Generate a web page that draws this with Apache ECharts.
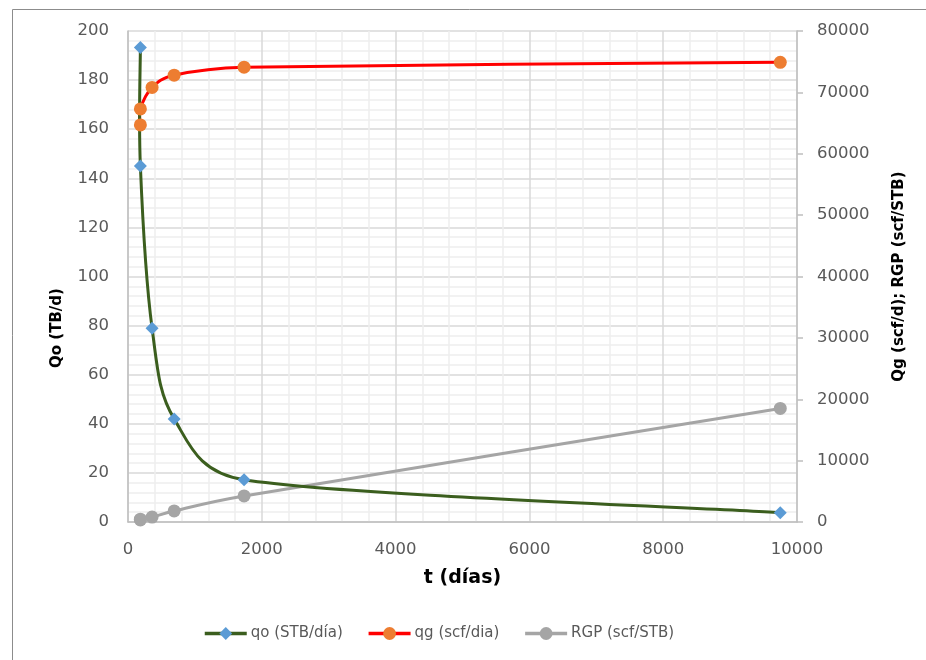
<!DOCTYPE html>
<html>
<head>
<meta charset="utf-8">
<script src="https://cdn.jsdelivr.net/npm/echarts@6/dist/echarts.min.js"></script>
<style>
html,body{margin:0;padding:0;background:#fff;}
#c{width:926px;height:660px;}
</style>
</head>
<body>
<div id="c"></div>
<script>
// time (days)
var tDays = [185, 185, 360, 690, 1735, 9750];
// oil rate (STB/day) - left axis
var qoVals = [193.3, 145, 78.9, 42, 17.2, 3.8];
// gas rate (scf/day) - right axis
var qgVals = [64700, 67300, 70800, 72800, 74100, 74900];
// gas-oil ratio (scf/STB) - right axis
var rgpVals = [340, 460, 800, 1800, 4250, 18500];

var leftTicks = {min: 0, max: 200, interval: 20};
var rightTicks = {min: 0, max: 80000, interval: 10000};
var xTicks = {min: 0, max: 10000, interval: 2000};

var names = ['qo (STB/día)', 'qg (scf/dia)', 'RGP (scf/STB)'];
var lineColors = ['#3b5e1e', '#ff0000', '#a5a5a5'];
var markColors = ['#5b9bd5', '#ed7d31', '#a5a5a5'];

function pairs(xs, ys) { return xs.map(function (x, i) { return [x, ys[i]]; }); }
function plain(v) { return String(v); }

// Excel-like smoothed curve (Bezier, 1/6 tension, arms capped at half segment), in pixel space
function smoothRenderer(xs, ys, color) {
  return function (params, api) {
    if (params.dataIndex !== 0) return null;
    var p = xs.map(function (x, i) { return api.coord([x, ys[i]]); });
    var n = p.length;
    function P(i) { return p[Math.max(0, Math.min(n - 1, i))]; }
    function dist(a, b) { return Math.hypot(a[0] - b[0], a[1] - b[1]); }
    var d = 'M' + p[0][0] + ' ' + p[0][1];
    for (var i = 0; i < n - 1; i++) {
      var p0 = P(i - 1), p1 = P(i), p2 = P(i + 1), p3 = P(i + 2);
      var seg = dist(p1, p2);
      var a1 = [(p2[0] - p0[0]) / 6, (p2[1] - p0[1]) / 6];
      var a2 = [(p3[0] - p1[0]) / 6, (p3[1] - p1[1]) / 6];
      var l1 = Math.hypot(a1[0], a1[1]), l2 = Math.hypot(a2[0], a2[1]);
      if (l1 > seg / 2 && l1 > 0) { a1 = [a1[0] * seg / 2 / l1, a1[1] * seg / 2 / l1]; }
      if (l2 > seg / 2 && l2 > 0) { a2 = [a2[0] * seg / 2 / l2, a2[1] * seg / 2 / l2]; }
      d += ' C' + (p1[0] + a1[0]) + ' ' + (p1[1] + a1[1]) + ' ' +
           (p2[0] - a2[0]) + ' ' + (p2[1] - a2[1]) + ' ' + p2[0] + ' ' + p2[1];
    }
    return {
      type: 'path',
      shape: {pathData: d},
      style: {fill: null, stroke: color, lineWidth: 3, lineJoin: 'round', lineCap: 'round'},
      silent: true
    };
  };
}

var FONT = 'DejaVu Sans';
var seriesData = [qoVals, qgVals, rgpVals];
var axisIdx = [0, 1, 1];
var symbols = ['diamond', 'circle', 'circle'];
var series = [];
for (var k = 0; k < 3; k++) {
  series.push({
    name: names[k] + ' curve', type: 'custom', yAxisIndex: axisIdx[k],
    data: pairs(tDays, seriesData[k]),
    renderItem: smoothRenderer(tDays, seriesData[k], lineColors[k]),
    z: 2 + (2 - k) * 0.1
  });
}
for (var k2 = 0; k2 < 3; k2++) {
  series.push({
    name: names[k2], type: 'line', yAxisIndex: axisIdx[k2],
    data: pairs(tDays, seriesData[k2]),
    symbol: symbols[k2], symbolSize: 13, showAllSymbol: true,
    lineStyle: {color: lineColors[k2], width: 3, opacity: 0},
    itemStyle: {color: markColors[k2]},
    z: 5 - k2 * 0.1
  });
}

var chart = echarts.init(document.getElementById('c'), null, {renderer: 'canvas'});
chart.setOption({
  backgroundColor: '#ffffff',
  animation: false,
  textStyle: {fontFamily: FONT},
  grid: {left: 128, right: 129, top: 31, bottom: 138, containLabel: false},
  graphic: [{
    type: 'rect', left: 10, top: 7, silent: true,
    shape: {x: 0, y: 0, width: 1000, height: 1000},
    style: {fill: 'none', stroke: '#8c8c8c', lineWidth: 1}
  }, {
    type: 'text', x: 57, y: 328, rotation: Math.PI / 2, silent: true,
    style: {text: 'Qo (TB/d)', fontFamily: FONT, fontSize: 15, fontWeight: 'bold', fill: '#000',
            textAlign: 'center', textVerticalAlign: 'middle'}
  }],
  legend: {
    left: 203, top: 626, padding: 0,
    itemWidth: 42, itemHeight: 16, itemGap: 24,
    lineStyle: {width: 3.5},
    textStyle: {fontFamily: FONT, fontSize: 15, color: '#595959', padding: [0, 0, 0, -1]},
    data: names.map(function (nm, i) {
      return {name: nm, lineStyle: {color: lineColors[i], width: 3.5, opacity: 1}, itemStyle: {color: markColors[i]}};
    })
  },
  xAxis: {
    type: 'value', min: xTicks.min, max: xTicks.max, interval: xTicks.interval,
    name: 't (días)', nameLocation: 'middle', nameGap: 47,
    nameTextStyle: {fontFamily: FONT, fontSize: 19, fontWeight: 'bold', color: '#000'},
    axisLine: {show: true, lineStyle: {color: '#bfbfbf', width: 1.5}},
    axisTick: {show: false},
    axisLabel: {fontFamily: FONT, fontSize: 16.5, color: '#595959', margin: 19, formatter: plain},
    splitLine: {show: true, lineStyle: {color: '#d9d9d9', width: 1.5}},
    minorTick: {show: false, splitNumber: 5},
    minorSplitLine: {show: true, lineStyle: {color: '#eeeeee', width: 1.5}}
  },
  yAxis: [{
    type: 'value', position: 'left', min: leftTicks.min, max: leftTicks.max, interval: leftTicks.interval,
    axisLine: {show: true, lineStyle: {color: '#bfbfbf', width: 1.5}},
    axisTick: {show: false},
    axisLabel: {fontFamily: FONT, fontSize: 16.5, color: '#595959', margin: 19, formatter: plain},
    splitLine: {show: true, lineStyle: {color: '#d9d9d9', width: 1.5}},
    minorTick: {show: false, splitNumber: 5},
    minorSplitLine: {show: true, lineStyle: {color: '#eeeeee', width: 1.5}}
  }, {
    type: 'value', position: 'right', min: rightTicks.min, max: rightTicks.max, interval: rightTicks.interval,
    name: 'Qg (scf/d); RGP (scf/STB)', nameLocation: 'middle', nameGap: 95, nameRotate: 90,
    nameTextStyle: {fontFamily: FONT, fontSize: 15, fontWeight: 'bold', color: '#000'},
    axisLine: {show: true, lineStyle: {color: '#bfbfbf', width: 1.5}},
    axisTick: {show: true, inside: false, length: 6, lineStyle: {color: '#bfbfbf', width: 1.5}},
    axisLabel: {fontFamily: FONT, fontSize: 16.5, color: '#595959', margin: 20, formatter: plain},
    splitLine: {show: false}
  }],
  series: series
});
</script>
</body>
</html>
